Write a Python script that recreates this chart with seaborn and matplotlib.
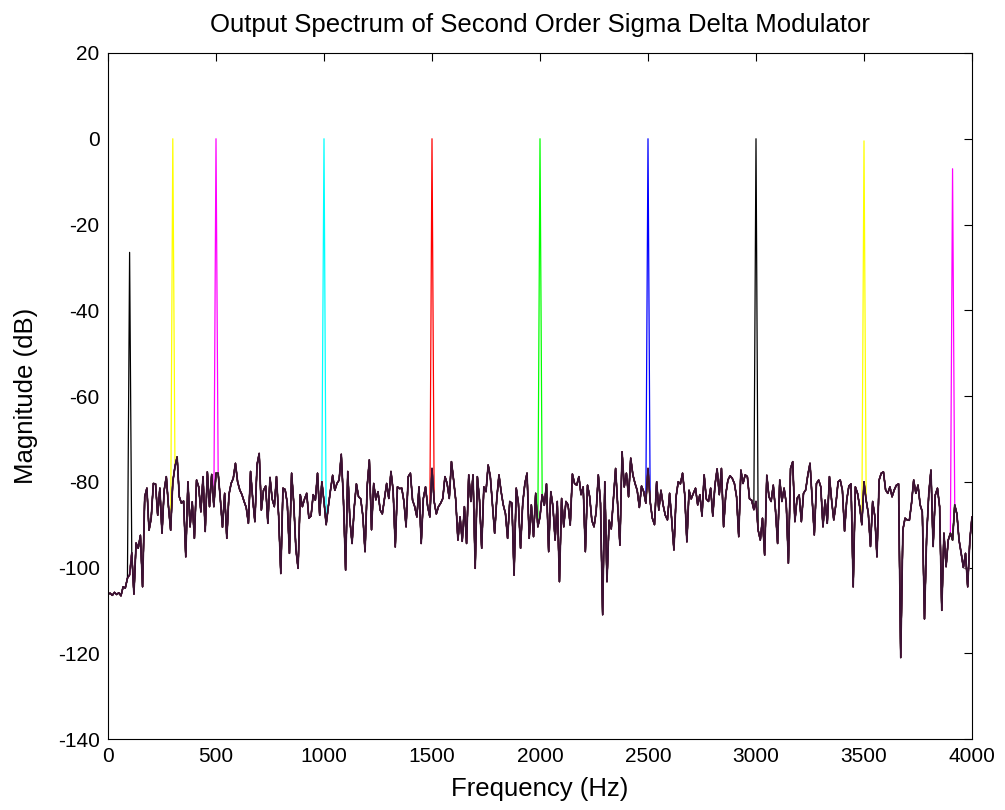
import numpy as np
import pandas as pd
import matplotlib
matplotlib.use("Agg")
import matplotlib.pyplot as plt
import seaborn as sns

# Frequency grid (Hz) and the common noise floor (dB)
freq_step = 10
floor_db = [
    -106.2, -106.0, -106.5, -105.8, -106.3, -105.9, -106.6, -104.5, -104.8, -102.5,
    -101.7, -96.6, -106.2, -94.3, -95.5, -92.5, -104.5, -83.5, -81.5, -91.3,
    -88.5, -80.4, -80.5, -87.8, -81.5, -92.0, -82.0, -78.8, -85.8, -91.3,
    -80.0, -76.5, -74.2, -83.5, -85.0, -84.5, -97.5, -80.0, -90.5, -84.7,
    -93.2, -79.6, -81.2, -87.0, -78.8, -91.6, -77.7, -85.8, -78.3, -85.8,
    -78.0, -78.0, -84.0, -90.6, -82.7, -93.2, -83.0, -80.4, -79.2, -75.7,
    -80.0, -81.9, -83.0, -84.6, -86.0, -89.7, -77.6, -84.0, -89.3, -76.0,
    -73.4, -86.6, -82.0, -81.0, -89.7, -79.0, -84.0, -85.8, -78.8, -88.0,
    -101.4, -81.5, -81.8, -85.0, -96.7, -78.0, -85.0, -95.8, -100.2, -83.0,
    -85.8, -84.0, -82.7, -88.5, -88.0, -83.0, -84.3, -78.0, -87.8, -80.0,
    -84.6, -90.0, -85.8, -82.0, -78.5, -82.0, -80.4, -79.6, -73.6, -84.3,
    -100.6, -77.6, -89.0, -94.4, -86.0, -80.5, -83.5, -84.0, -88.0, -96.3,
    -81.0, -74.9, -91.2, -80.4, -84.2, -82.3, -86.6, -87.5, -83.9, -80.4,
    -83.9, -77.6, -82.0, -95.2, -81.2, -81.6, -81.5, -84.6, -90.5, -78.8,
    -78.0, -84.3, -85.8, -88.2, -81.2, -94.4, -83.9, -81.2, -85.8, -88.2,
    -76.9, -84.6, -87.5, -85.8, -85.0, -83.9, -78.8, -80.4, -83.9, -75.3,
    -79.6, -84.3, -93.6, -88.2, -93.9, -85.8, -94.4, -78.4, -84.6, -78.4,
    -100.2, -78.8, -84.3, -95.5, -81.2, -82.3, -76.1, -78.8, -85.4, -92.0,
    -83.9, -78.4, -82.3, -85.4, -87.4, -93.2, -84.6, -85.0, -101.8, -81.5,
    -85.0, -95.5, -85.0, -80.4, -78.0, -93.2, -85.4, -92.8, -82.7, -90.5,
    -88.2, -83.0, -85.5, -80.5, -96.3, -82.3, -85.8, -93.6, -84.6, -103.3,
    -83.9, -90.5, -84.6, -85.4, -90.1, -78.2, -80.4, -80.8, -78.8, -83.0,
    -81.2, -96.3, -80.8, -83.5, -89.0, -90.5, -87.0, -78.4, -85.0, -111.0,
    -80.0, -103.3, -89.0, -91.0, -84.0, -76.9, -85.8, -94.8, -73.0, -81.2,
    -78.0, -83.5, -74.5, -78.4, -80.4, -82.0, -86.0, -81.0, -82.3, -85.0,
    -76.9, -84.6, -88.5, -90.0, -80.0, -86.6, -82.0, -85.4, -87.8, -88.9,
    -82.7, -89.0, -95.9, -83.5, -80.0, -80.5, -78.0, -83.0, -94.0, -82.0,
    -84.0, -82.7, -81.5, -85.4, -83.0, -88.0, -78.4, -84.0, -84.6, -81.5,
    -88.0, -80.8, -77.0, -83.0, -76.9, -90.5, -83.0, -79.6, -78.6, -79.2,
    -80.4, -83.5, -92.8, -77.3, -80.4, -78.4, -78.8, -84.0, -84.3, -86.5,
    -84.6, -91.3, -93.6, -88.5, -97.1, -78.5, -83.5, -84.6, -80.8, -86.5,
    -94.4, -79.6, -84.6, -81.5, -85.0, -99.0, -76.9, -75.3, -89.3, -83.9,
    -83.1, -89.3, -82.7, -81.9, -78.4, -75.7, -83.9, -92.4, -80.4, -79.6,
    -81.2, -90.5, -84.3, -89.7, -78.8, -84.3, -88.9, -85.2, -80.0, -79.6,
    -82.0, -91.5, -84.3, -81.0, -80.5, -104.5, -81.2, -82.7, -85.8, -90.0,
    -80.0, -84.3, -87.4, -95.1, -84.6, -88.0, -97.5, -79.6, -78.0, -77.7,
    -81.9, -82.7, -81.2, -83.5, -81.9, -80.8, -80.5, -121.0, -91.2, -88.5,
    -88.9, -89.0, -85.0, -79.6, -82.7, -80.8, -85.4, -87.0, -112.0, -92.8,
    -82.7, -77.3, -95.1, -83.1, -81.5, -85.8, -110.0, -92.0, -99.8, -93.6,
    -92.0, -93.6, -85.4, -87.5, -93.6, -96.7, -100.0, -96.7, -104.5, -93.6,
    -88.2,
]

# Tone frequencies (Hz), their peak levels (dB) and line colours
tone_freqs = [300, 500, 1000, 1500, 2000, 2500, 3000, 3500, 3910, 100]
tone_peaks = [0.0, 0.0, 0.0, 0.0, 0.0, 0.0, 0.0, -0.5, -7.0, -26.5]
tone_colors = ["#ffff00", "#ff00ff", "#00ffff", "#ff0000", "#00ff00",
               "#0000ff", "#000000", "#ffff00", "#ff00ff", "#000000"]

x_ticks = [0, 500, 1000, 1500, 2000, 2500, 3000, 3500, 4000]
y_ticks = [-140, -120, -100, -80, -60, -40, -20, 0, 20]

freqs = np.arange(len(floor_db)) * freq_step
floor = np.array(floor_db)

rows = []
for i, (f, p) in enumerate(zip(tone_freqs, tone_peaks)):
    vals = floor.copy()
    vals[int(round(f / freq_step))] = p
    rows.append(pd.DataFrame({"freq": freqs, "mag": vals, "tone": f"t{i}"}))
df = pd.concat(rows, ignore_index=True)
palette = {f"t{i}": c for i, c in enumerate(tone_colors)}

sns.set_style("white")
plt.rcParams["font.family"] = ["Liberation Sans", "DejaVu Sans"]
plt.rcParams["text.color"] = "black"
plt.rcParams["axes.labelcolor"] = "black"

fig = plt.figure(figsize=(10.05, 8.10), dpi=100)
ax = fig.add_axes([108 / 1005, 1 - 739 / 810, (972 - 108) / 1005, (739 - 53) / 810])

sns.lineplot(data=df, x="freq", y="mag", hue="tone", palette=palette,
             estimator=None, sort=False, legend=False, linewidth=0.9, ax=ax)
# blended dark floor where all the traces overlap
sns.lineplot(x=freqs, y=floor, color="#3b1233", estimator=None, sort=False,
             linewidth=1.2, ax=ax)

ax.set_xlim(0, 4000)
ax.set_ylim(-140, 20)
ax.set_xticks(x_ticks)
ax.set_yticks(y_ticks)
ax.set_xticklabels([str(v) for v in x_ticks])
ax.set_yticklabels([str(v) for v in y_ticks])
ax.tick_params(direction="in", top=True, right=True, length=6, width=0.8,
               labelsize=15, colors="black", pad=6)
for s in ax.spines.values():
    s.set_visible(True)
    s.set_color("black")
    s.set_linewidth(0.8)

ax.set_xlabel("Frequency (Hz)", fontsize=18.5, labelpad=8, color="black")
ax.set_ylabel("Magnitude (dB)", fontsize=18.5, labelpad=14, color="black")
ax.set_title("Output Spectrum of Second Order Sigma Delta Modulator",
             fontsize=18.5, pad=15, color="black")

fig.savefig("out.png", dpi=100, facecolor="white")
